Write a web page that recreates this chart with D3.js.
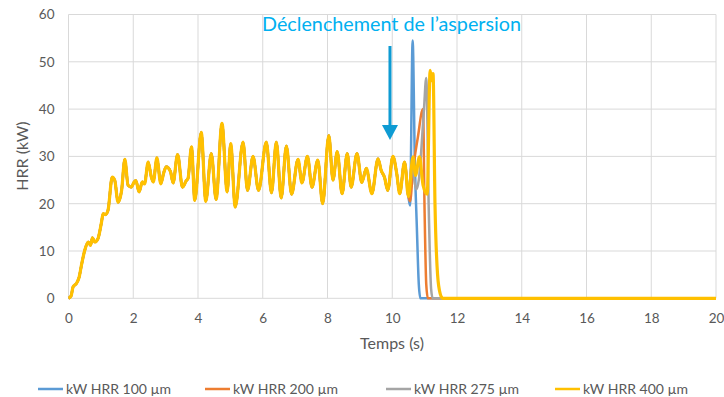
<!DOCTYPE html>
<html lang="fr">
<head>
  <meta charset="UTF-8">
  <title>HRR</title>
  <style>
    body, html {
      margin: 0;
      padding: 0;
      background-color: #ffffff;
    }
    #svg {
      display: block;
      font-family: Lato, "Open Sans", sans-serif;
    }
  </style>
</head>
<body>
  <svg id="svg" width="724" height="397"></svg>
  <script src="https://d3js.org/d3.v7.min.js"></script>
  <script>
    // shared part of the curve (all four runs overlap until ~10.5 s)
    const commonTime = [0, 0.08, 0.14, 0.25, 0.33, 0.40, 0.50, 0.61, 0.68, 0.74, 0.81, 0.91, 1.02, 1.07, 1.14, 1.22,
      1.35, 1.43, 1.53, 1.64, 1.74, 1.84, 1.94, 2.02, 2.08, 2.18, 2.28, 2.35, 2.46, 2.56, 2.62, 2.73, 2.85, 2.94,
      3.02, 3.15, 3.23, 3.37, 3.52, 3.64, 3.69, 3.80, 3.90, 4.10, 4.24, 4.41, 4.56, 4.74, 4.90, 5.01, 5.15, 5.39,
      5.53, 5.70, 5.87, 6.11, 6.27, 6.42, 6.57, 6.73, 6.89, 7.09, 7.21, 7.38, 7.52, 7.70, 7.85, 8.04, 8.17, 8.30,
      8.45, 8.61, 8.73, 8.91, 9.06, 9.20, 9.37, 9.56, 9.66, 9.76, 9.86, 10.02, 10.14, 10.23, 10.38, 10.50]
    const commonHrr = [0, 0.5, 2.4, 3.2, 4.5, 7.0, 10.1, 11.9, 11.2, 12.8, 11.9, 12.6, 16.1, 17.9, 17.7, 18.6,
      25.6, 24.9, 20.3, 22.8, 29.4, 23.9, 23.5, 24.5, 24.9, 22.5, 24.6, 24.2, 28.8, 25.6, 24.6, 29.7, 24.2, 26.5,
      27.8, 26.8, 24.4, 30.4, 23.5, 24.9, 25.3, 32.0, 20.7, 35.1, 20.5, 30.6, 20.9, 37.0, 22.5, 32.7, 19.3, 33.0,
      22.8, 30.0, 22.8, 33.0, 22.3, 33.0, 21.2, 32.2, 22.0, 29.4, 24.4, 30.0, 23.5, 29.2, 20.0, 34.4, 25.0, 31.0,
      22.1, 30.6, 23.5, 30.6, 24.5, 27.5, 22.1, 29.5, 27.0, 25.6, 22.8, 30.0, 26.3, 22.1, 28.8, 21.5]

    // after the sprinklers start, each droplet size goes its own way
    const series = ['kW HRR 100 µm', 'kW HRR 200 µm', 'kW HRR 275 µm', 'kW HRR 400 µm']
    const colors = ['#5b9bd5', '#ed7d31', '#a5a5a5', '#ffc000']
    const tailTime = [
      [10.55, 10.63, 10.70, 10.76, 10.82, 10.87, 11.0, 20],
      [10.55, 10.64, 10.79, 10.95, 11.00, 11.05, 11.10, 11.2, 20],
      [10.60, 10.74, 10.82, 10.98, 11.05, 11.13, 11.20, 11.25, 20],
      [10.64, 10.72, 10.84, 10.95, 11.08, 11.17, 11.22, 11.26, 11.32, 11.40, 11.48, 11.56, 20]
    ]
    const tailHrr = [
      [19.6, 54.5, 28, 15, 3, 0, 0, 0],
      [20.5, 27, 34, 40, 18, 3, 0, 0, 0],
      [28, 23, 25, 40, 46.6, 18, 2, 0, 0],
      [29.9, 26, 29.9, 24, 22, 48.2, 46, 47.5, 20, 5, 1, 0, 0]
    ]

    const xTicks = d3.range(0, 21, 2)
    const yTicks = d3.range(0, 61, 10)
    const arrowTime = 9.93

    const svg = d3.select('#svg')
    const xScale = d3.scaleLinear().domain([0, 20]).range([68.5, 716])
    const yScale = d3.scaleLinear().domain([0, 60]).range([298.3, 14.5])

    // grid
    svg.append('g')
      .selectAll('line')
      .data(yTicks)
      .enter()
      .append('line')
      .attr('x1', xScale(0))
      .attr('x2', xScale(20))
      .attr('y1', d => yScale(d))
      .attr('y2', d => yScale(d))
      .attr('stroke', '#d9d9d9')
      .attr('stroke-width', 1)
    svg.append('g')
      .selectAll('line')
      .data(xTicks)
      .enter()
      .append('line')
      .attr('x1', d => xScale(d))
      .attr('x2', d => xScale(d))
      .attr('y1', yScale(0))
      .attr('y2', yScale(60))
      .attr('stroke', '#d9d9d9')
      .attr('stroke-width', 1)

    // axes (labels only)
    const bottomAxis = d3.axisBottom(xScale).tickValues(xTicks).tickSize(0).tickPadding(15)
    const leftAxis = d3.axisLeft(yScale).tickValues(yTicks).tickSize(0).tickPadding(14)
    const gx = svg.append('g')
      .attr('transform', `translate(0, ${yScale(0)})`)
      .call(bottomAxis)
    const gy = svg.append('g')
      .attr('transform', `translate(${xScale(0)}, 0)`)
      .call(leftAxis)
    gx.select('.domain').remove()
    gy.select('.domain').remove()
    svg.selectAll('.tick text')
      .style('font-family', 'Lato, sans-serif')
      .style('font-size', '13.5px')
      .attr('fill', '#595959')

    // curves
    const line = d3.line()
      .x(d => xScale(d[0]))
      .y(d => yScale(d[1]))
      .curve(d3.curveMonotoneX)
    series.forEach((name, i) => {
      const pts = commonTime.map((t, j) => [t, commonHrr[j]])
        .concat(tailTime[i].map((t, j) => [t, tailHrr[i][j]]))
      svg.append('path')
        .datum(pts)
        .attr('d', line)
        .attr('fill', 'none')
        .attr('stroke', colors[i])
        .attr('stroke-width', i === 3 ? 3.2 : 2.5)
        .attr('stroke-linejoin', 'round')
    })

    // axis titles
    svg.append('text')
      .text('Temps (s)')
      .attr('x', 392)
      .attr('y', 349)
      .attr('text-anchor', 'middle')
      .style('font-size', '16px')
      .attr('fill', '#595959')
    svg.append('text')
      .text('HRR (kW)')
      .attr('transform', 'translate(28, 156) rotate(-90)')
      .attr('text-anchor', 'middle')
      .style('font-size', '16px')
      .attr('fill', '#595959')

    // annotation
    svg.append('text')
      .text('Déclenchement de l’aspersion')
      .attr('x', 262)
      .attr('y', 31)
      .attr('textLength', 259)
      .attr('lengthAdjust', 'spacingAndGlyphs')
      .style('font-size', '19px')
      .attr('fill', '#00b0f0')
    const ax = xScale(arrowTime)
    svg.append('line')
      .attr('x1', ax).attr('x2', ax)
      .attr('y1', 46).attr('y2', 127)
      .attr('stroke', '#0e9bd3')
      .attr('stroke-width', 3)
    svg.append('path')
      .attr('d', `M${ax - 8},125 L${ax + 8},125 L${ax},140 Z`)
      .attr('fill', '#0e9bd3')

    // legend
    const legendX = [38, 205, 386, 555]
    const legend = svg.append('g')
      .selectAll('g')
      .data(series)
      .enter()
      .append('g')
      .attr('transform', (d, i) => `translate(${legendX[i]}, 389)`)
    legend.append('line')
      .attr('x1', 0).attr('x2', 25)
      .attr('y1', 0).attr('y2', 0)
      .attr('stroke', (d, i) => colors[i])
      .attr('stroke-width', 2.5)
    legend.append('text')
      .text(d => d)
      .attr('x', 28)
      .attr('y', 5)
      .style('font-size', '14px')
      .attr('fill', '#595959')
  </script>
</body>
</html>
